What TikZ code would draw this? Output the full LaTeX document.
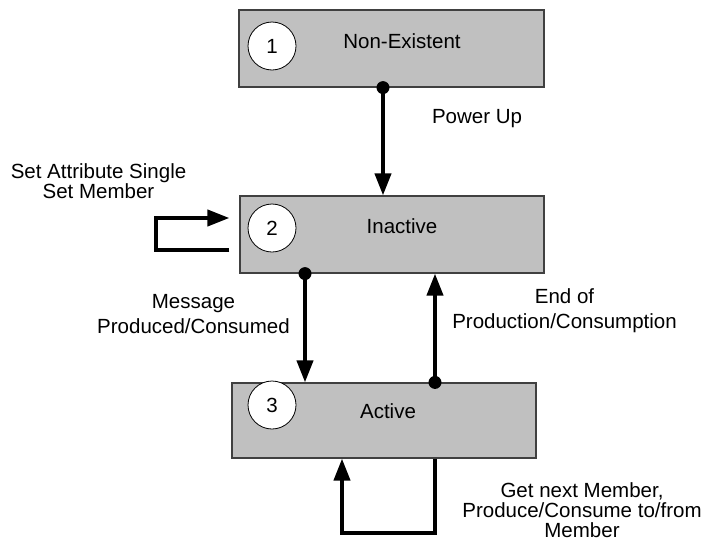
\documentclass[tikz,border=0pt]{standalone}
\usepackage{fontspec}
\setmainfont{Liberation Sans}
\usetikzlibrary{arrows.meta}
\definecolor{boxgray}{RGB}{192,192,192}

\begin{document}
\begin{tikzpicture}[x=0.5pt,y=-0.5pt,
    font=\fontsize{10.25}{11.5}\selectfont,
    statebox/.style={draw=black!75, line width=0.6pt, fill=boxgray, inner sep=0pt},
    numcirc/.style={circle, draw=black, line width=0.4pt, fill=white, minimum size=24pt, inner sep=0pt},
    flow/.style={line width=2pt, -{Triangle[length=11pt,width=8pt]}},
    lbl/.style={align=center, inner sep=0pt},
    widelbl/.style={lbl, font=\fontsize{10.25}{12.75}\selectfont},
    tightlbl/.style={lbl, font=\fontsize{10.25}{10}\selectfont}]

    \useasboundingbox (0,0) rectangle (706,541);

    % State rectangles
    \node[statebox, minimum width=152.5pt, minimum height=38.5pt] (nonex) at (391.5,48.5) {};
    \node[statebox, minimum width=152pt, minimum height=38.5pt] (inact) at (392,234.5) {};
    \node[statebox, minimum width=152pt, minimum height=37.5pt] (act) at (384,420.5) {};

    % State numbers
    \node[numcirc] (num1) at (272,46) {1};
    \node[numcirc] (num2) at (272,228) {2};
    \node[numcirc] (num3) at (272,405) {3};

    % State names
    \node[anchor=base] (name1) at (402,48) {Non-Existent};
    \node[anchor=base] (name2) at (402,233) {Inactive};
    \node[anchor=base] (name3) at (388,418) {Active};

    % Power up
    \fill ([xshift=-4.25pt]nonex.south) circle (3.25pt);
    \draw[flow] ([xshift=-4.25pt]nonex.south) -- ([xshift=-4.25pt]nonex.south |- inact.north);
    \node[anchor=base] (powerup) at (477,123) {Power Up};

    % Message produced/consumed
    \fill ([xshift=-43.5pt]inact.south) circle (3.25pt);
    \draw[flow] ([xshift=-43.5pt]inact.south) -- ([xshift=-43.5pt]inact.south |- act.north);
    \node[widelbl] (msg) at (193.5,314) {Message\\Produced/Consumed};

    % End of production/consumption
    \fill ([xshift=25.5pt]act.north) circle (3.25pt);
    \draw[flow] ([xshift=25.5pt]act.north) -- ([xshift=25.5pt]act.north |- inact.south);
    \node[widelbl] (endprod) at (564.5,310.5) {End of\\Production/Consumption};

    % Loop on Inactive
    \draw[flow] ([xshift=-5pt,yshift=-7.75pt]inact.west) -- ++(-36.5pt,0)
        |- ([xshift=-5pt,yshift=8.25pt]inact.west);
    \node[tightlbl] (setattr) at (98.5,181.5) {Set Attribute Single\\Set Member};

    % Loop on Active
    \draw[flow] ([xshift=25.5pt]act.south) -- ++(0,-37pt) -| ([xshift=-21pt]act.south);
    \node[tightlbl] (getnext) at (582,510) {Get next Member,\\Produce/Consume to/from\\Member};

\end{tikzpicture}
\end{document}
